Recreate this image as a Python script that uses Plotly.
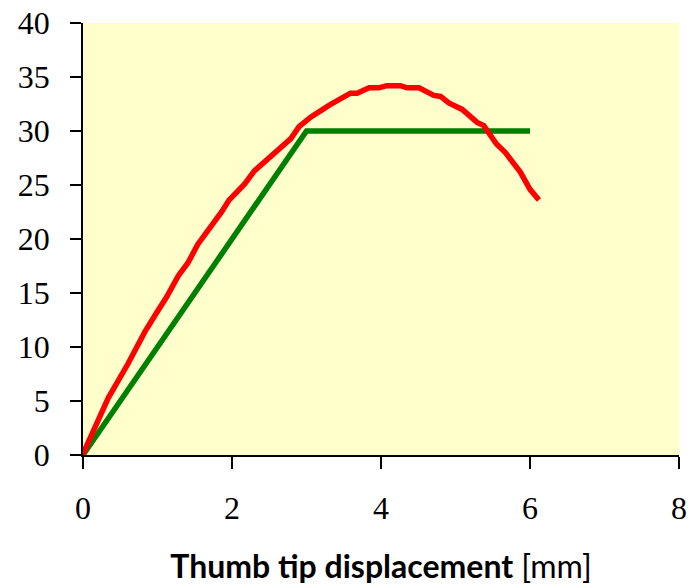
import plotly.graph_objects as go

# Red curve (measured)
red_x = [0.0, 0.13, 0.34, 0.60, 0.83, 0.99, 1.12, 1.28, 1.41, 1.54, 1.70, 1.86, 1.96,
         2.17, 2.30, 2.57, 2.79, 2.90, 3.06, 3.24, 3.33, 3.59, 3.68, 3.84, 3.97, 4.08, 4.26,
         4.35, 4.51, 4.71, 4.80, 4.91, 5.09, 5.29, 5.38, 5.55, 5.67, 5.78, 5.87, 6.00, 6.12]
red_y = [0.1, 2.2, 5.3, 8.4, 11.4, 13.2, 14.6, 16.6, 17.8, 19.5, 20.9, 22.5, 23.6,
         25.1, 26.3, 27.9, 29.3, 30.4, 31.3, 32.1, 32.5, 33.5, 33.5, 34.0, 34.0, 34.2, 34.2,
         34.0, 34.0, 33.3, 33.2, 32.6, 32.0, 30.8, 30.5, 28.8, 28.0, 27.0, 26.2, 24.6, 23.6]

# Green model line
green_x = [0, 3, 5, 6]
green_y = [0, 30, 30, 30]

x_ticks = [0, 2, 4, 6, 8]
y_ticks = [0, 5, 10, 15, 20, 25, 30, 35, 40]

fig = go.Figure()
fig.add_trace(go.Scatter(x=green_x, y=green_y, mode="lines",
                         line=dict(color="#008000", width=5.5), showlegend=False))
fig.add_trace(go.Scatter(x=red_x, y=red_y, mode="lines",
                         line=dict(color="#FF0000", width=5.5), showlegend=False))

tickfont = dict(family="Liberation Serif, DejaVu Serif, serif", size=32, color="black")

fig.update_layout(
    width=692, height=588,
    margin=dict(l=83, r=13, t=23, b=133, autoexpand=False),
    paper_bgcolor="white",
    plot_bgcolor="#FFFFCC",
    xaxis=dict(range=[0, 8], tickvals=x_ticks, showgrid=False, zeroline=False,
               automargin=False,
               showline=True, linecolor="black", linewidth=1.5,
               ticks="outside", ticklen=12, tickcolor="black", tickwidth=1.5,
               tickfont=tickfont, ticklabelstandoff=12,
               title=dict(text="<b>Thumb tip displacement</b> [mm]",
                          font=dict(family="Lato, sans-serif", size=32, color="black"),
                          standoff=30)),
    yaxis=dict(range=[0, 40], tickvals=y_ticks, showgrid=False, zeroline=False,
               automargin=False,
               showline=True, linecolor="black", linewidth=1.5,
               ticks="outside", ticklen=11, tickcolor="black", tickwidth=1.5,
               tickfont=tickfont, ticklabelstandoff=14),
)

fig.write_html("out.html")
